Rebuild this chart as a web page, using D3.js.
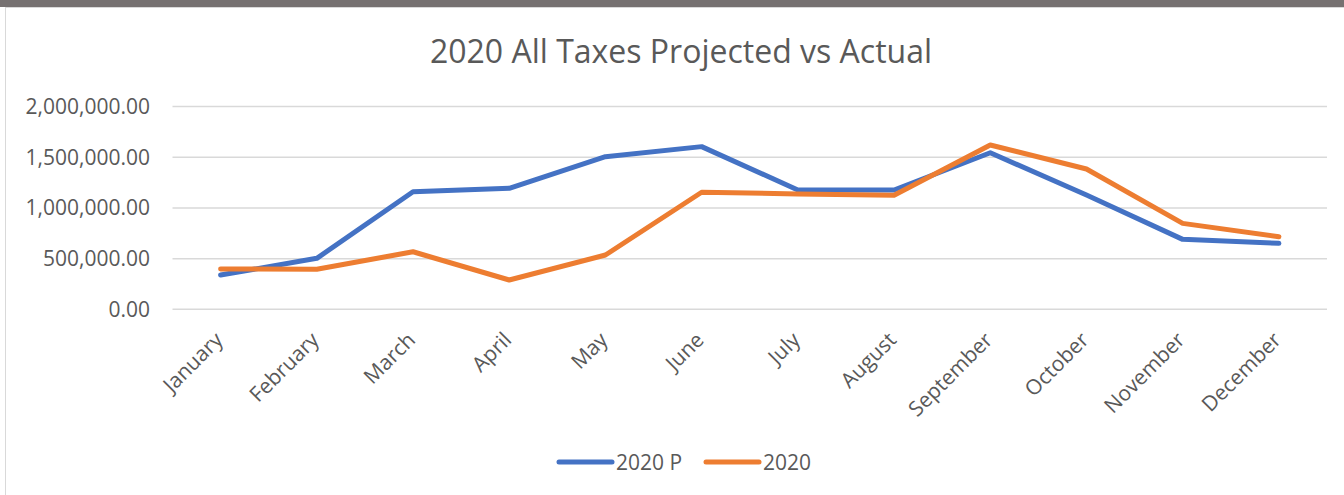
<!DOCTYPE html>
<html>
<head>
<meta charset="utf-8">
<script src="https://cdn.jsdelivr.net/npm/d3@7"></script>
<style>
  html, body { margin: 0; padding: 0; background: #fff; }
  svg { display: block; }
  text { font-family: "Open Sans", "Noto Sans", sans-serif; fill: #595959; }
</style>
</head>
<body>
<svg id="chart" width="1344" height="495"></svg>
<script>
// Monthly tax collections for 2020: projected vs actual
const months = ["January", "February", "March", "April", "May", "June",
                "July", "August", "September", "October", "November", "December"];
const projected = [338000, 503000, 1160000, 1194000, 1506000, 1605000,
                   1177000, 1177000, 1545000, 1128000, 690000, 651000];
const actual = [398000, 395000, 568000, 289000, 536000, 1155000,
                1138000, 1125000, 1621000, 1384000, 848000, 716000];
const yTicks = [0, 500000, 1000000, 1500000, 2000000];
const seriesNames = ["2020 P", "2020"];
const seriesColors = ["#4472C4", "#ED7D31"];

const svg = d3.select("#chart");
const W = 1344, H = 495;

// Frame: dark strip at top, light border around the chart area
svg.append("rect").attr("x", 0).attr("y", 0).attr("width", W).attr("height", 7).attr("fill", "#767171");
svg.append("rect").attr("x", 5.5).attr("y", 7.5).attr("width", W).attr("height", H)
  .attr("fill", "#fff").attr("stroke", "#D9D9D9").attr("stroke-width", 1);

const plot = { left: 172.5, right: 1327, top: 106.6, bottom: 309.3 };

const x = d3.scalePoint().domain(months).range([plot.left, plot.right]).padding(0.5);
const y = d3.scaleLinear().domain([0, 2000000]).range([plot.bottom, plot.top]);

// Title
svg.append("text")
  .attr("x", 681).attr("y", 63)
  .attr("text-anchor", "middle")
  .style("font-size", "32px")
  .text("2020 All Taxes Projected vs Actual");

// Horizontal gridlines
svg.append("g").selectAll("line").data(yTicks).join("line")
  .attr("x1", plot.left).attr("x2", plot.right)
  .attr("y1", d => y(d)).attr("y2", d => y(d))
  .attr("stroke", "#D9D9D9").attr("stroke-width", 1.5);

// Y axis labels
const yAxis = d3.axisLeft(y).tickValues(yTicks).tickSize(0).tickPadding(0)
  .tickFormat(d3.format(",.2f"));
const gy = svg.append("g").attr("transform", `translate(150,0)`).call(yAxis);
gy.select(".domain").remove();
gy.selectAll("text").style("font-size", "21px").attr("fill", "#595959")
  .style("font-family", "\"Open Sans\", sans-serif");

// X axis labels, rotated
const xAxis = d3.axisBottom(x).tickSize(0).tickPadding(0);
const gx = svg.append("g").attr("transform", `translate(0,${plot.bottom})`).call(xAxis);
gx.select(".domain").remove();
gx.selectAll("text")
  .style("font-size", "21px").attr("fill", "#595959")
  .style("font-family", "\"Open Sans\", sans-serif")
  .attr("text-anchor", "end")
  .attr("dy", null).attr("y", 0)
  .attr("transform", "translate(3,32) rotate(-45)");

// Lines
const line = d3.line().x((d, i) => x(months[i])).y(d => y(d));
[projected, actual].forEach((vals, k) => {
  svg.append("path").datum(vals)
    .attr("d", line)
    .attr("fill", "none")
    .attr("stroke", seriesColors[k])
    .attr("stroke-width", 5)
    .attr("stroke-linejoin", "round")
    .attr("stroke-linecap", "round");
});

// Legend
const legendItems = [{ x: 559, name: seriesNames[0], c: seriesColors[0] },
                     { x: 706, name: seriesNames[1], c: seriesColors[1] }];
const lg = svg.append("g");
legendItems.forEach(it => {
  lg.append("line").attr("x1", it.x).attr("x2", it.x + 53).attr("y1", 462).attr("y2", 462)
    .attr("stroke", it.c).attr("stroke-width", 5).attr("stroke-linecap", "round");
  lg.append("text").attr("x", it.x + 57).attr("y", 469.5)
    .style("font-size", "21px").text(it.name);
});
</script>
</body>
</html>
